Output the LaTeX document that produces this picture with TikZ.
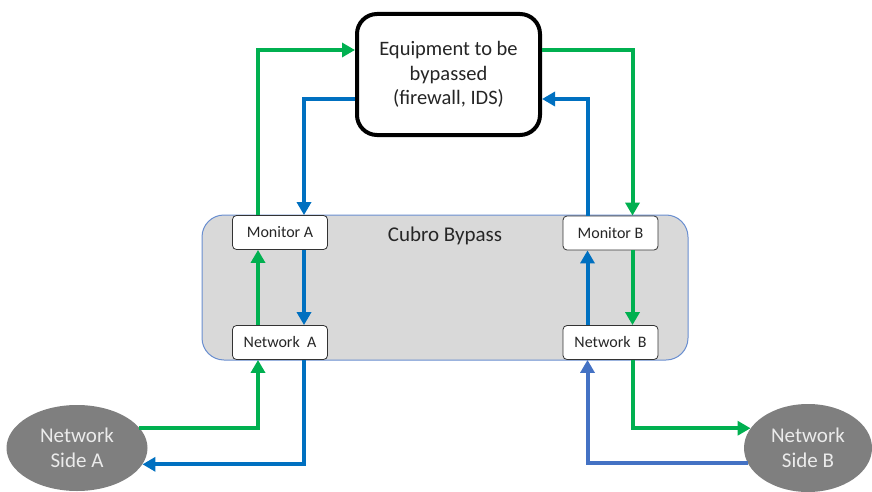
\documentclass[tikz,border=0pt]{standalone}
\usepackage{fontspec}
\setmainfont{Carlito}
\usetikzlibrary{arrows.meta,shapes.geometric}

\definecolor{flowgreen}{HTML}{00B050}
\definecolor{flowblue}{HTML}{0070C0}
\definecolor{flowblueb}{HTML}{4472C4}
\definecolor{bypassgray}{HTML}{D9D9D9}
\definecolor{sidegray}{HTML}{7F7F7F}

\tikzset{
    port/.style={rectangle, rounded corners=4pt, draw=black!80, fill=white, line width=0.8pt,
        minimum width=95pt, minimum height=34pt, inner sep=0pt, text=black!85,
        font=\fontsize{16}{18}\selectfont},
    netside/.style={ellipse, fill=sidegray, draw=none, text=white!92!black, align=center,
        inner sep=0pt, font=\fontsize{21}{25}\selectfont},
    flow/.style={line width=4pt, -{Triangle[length=13pt,width=14pt]}},
    gflow/.style={flow, draw=flowgreen},
    bflow/.style={flow, draw=flowblue},
}

\begin{document}
\begin{tikzpicture}[x=1pt,y=-1pt]
                \useasboundingbox (0,0) rectangle (872,492);

                \node [rectangle, rounded corners=22pt, draw=flowblueb!80, fill=bypassgray, line width=1pt,
                    minimum width=486pt, minimum height=145pt] (BP) at (445,287.5) {};
                \node [font=\fontsize{21}{23}\selectfont, text=black!85] (BPL) at (445,236) {Cubro Bypass};

                \node [rectangle, rounded corners=20pt, draw=black, fill=white, line width=4pt,
                    minimum width=183pt, minimum height=121pt, align=center, text=black!85, inner sep=0pt,
                    font=\fontsize{20.5}{24.5}\selectfont] (EQ) at (448.5,74.5) {Equipment to be\\bypassed\\(firewall, IDS)};

                \node [port] (MA) at (280,232.5) {Monitor A};
                \node [port] (NA) at (280,342.5) {Network\ \ A};
                \node [port] (MB) at (610.5,233) {Monitor B};
                \node [port] (NB) at (610.5,342.5) {Network\ \ B};

                \node [netside, minimum width=141pt, minimum height=86pt] (SA) at (77,448) {Network\\Side A};
                \node [netside, minimum width=128pt, minimum height=88pt] (SB) at (808,448) {Network\\Side B};

                % side A
                \draw[gflow] (SA.18) -| ([xshift=-22pt]NA.south);
                \draw[gflow] ([xshift=-22pt]NA.north) -- ([xshift=-22pt]MA.south);
                \draw[gflow] ([xshift=-22pt]MA.north) |- ([yshift=24.5pt]EQ.west);
                \draw[bflow] ([yshift=-24.5pt]EQ.west) -| ([xshift=24pt]MA.north);
                \draw[bflow] ([xshift=24pt]MA.south) -- ([xshift=24pt]NA.north);
                \draw[bflow] ([xshift=24pt]NA.south) |- (SA.-14);

                % side B
                \draw[gflow] ([yshift=24.5pt]EQ.east) -| ([xshift=22pt]MB.north);
                \draw[gflow] ([xshift=22pt]MB.south) -- ([xshift=22pt]NB.north);
                \draw[gflow] ([xshift=22pt]NB.south) |- (SB.161);
                \draw[bflow, draw=flowblueb] (SB.194) -| ([xshift=-23pt]NB.south);
                \draw[bflow] ([xshift=-23pt]NB.north) -- ([xshift=-23pt]MB.south);
                \draw[bflow] ([xshift=-23pt]MB.north) |- ([yshift=-24.5pt]EQ.east);
\end{tikzpicture}
\end{document}
